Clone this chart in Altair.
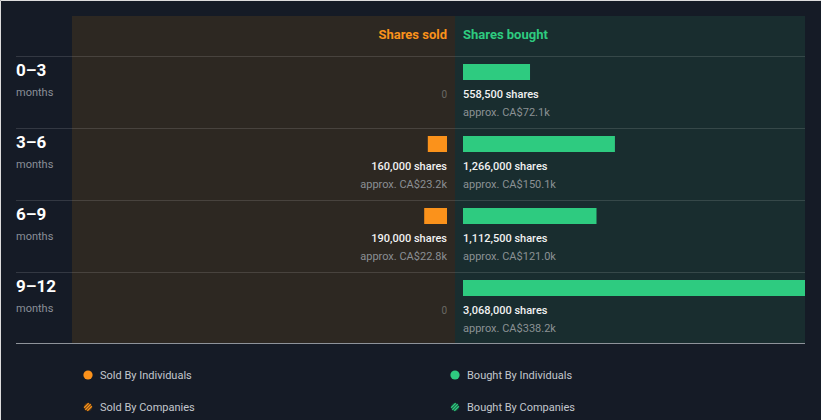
import altair as alt
import pandas as pd

# ---- data ----
periods = ["0–3", "3–6", "6–9", "9–12"]
sold_shares = [0, 160000, 190000, 0]
sold_value_k = [0, 23.2, 22.8, 0]
bought_shares = [558500, 1266000, 1112500, 3068000]
bought_value_k = [72.1, 150.1, 121.0, 338.2]
legend_labels = ["Sold By Individuals", "Sold By Companies",
                 "Bought By Individuals", "Bought By Companies"]
headers = ["Shares sold", "Shares bought"]

BG = "#151b26"
SOLD_BG = "#2d2822"
BOUGHT_BG = "#192d2f"
ORANGE = "#fb921b"
GREEN = "#2ecb80"
FONT = "Roboto"

df = pd.DataFrame({
    "period": periods,
    "sold": sold_shares,
    "sold_k": sold_value_k,
    "bought": bought_shares,
    "bought_k": bought_value_k,
})
df["sold_txt"] = [f"{v:,} shares" if v else "0" for v in df["sold"]]
df["sold_apx"] = [f"approx. CA${k:.1f}k" if v else "" for v, k in zip(df["sold"], df["sold_k"])]
df["bought_txt"] = [f"{v:,} shares" for v in df["bought"]]
df["bought_apx"] = [f"approx. CA${k:.1f}k" for k in df["bought_k"]]
df["unit"] = "months"

one = pd.DataFrame({"a": [0]})

yscale = alt.Scale(domain=periods, range=[56, 344], paddingInner=0, paddingOuter=0)
Y = alt.Y("period:N", scale=yscale, axis=None)

base = alt.Chart(df)

# panels
sold_bg = alt.Chart(one).mark_rect(color=SOLD_BG).encode(
    x=alt.value(72), x2=alt.value(455), y=alt.value(16), y2=alt.value(343))
bought_bg = alt.Chart(one).mark_rect(color=BOUGHT_BG).encode(
    x=alt.value(455), x2=alt.value(805), y=alt.value(16), y2=alt.value(343))

# separators
seps = base.mark_rule(color="#ffffff", opacity=0.13, strokeWidth=1, yOffset=-35.5).encode(
    y=Y, x=alt.value(16), x2=alt.value(805))
bottom = alt.Chart(one).mark_rule(color="#8e939a", strokeWidth=1).encode(
    y=alt.value(343.5), x=alt.value(16), x2=alt.value(805))

# headers
hdf = pd.DataFrame({"h": headers})
h_sold = alt.Chart(hdf).transform_filter(alt.datum.h == headers[0]).mark_text(
    align="right", baseline="middle", font=FONT, fontSize=13, fontWeight="bold", color=ORANGE
).encode(text="h:N", x=alt.value(447), y=alt.value(35))
h_bought = alt.Chart(hdf).transform_filter(alt.datum.h == headers[1]).mark_text(
    align="left", baseline="middle", font=FONT, fontSize=13, fontWeight="bold", color=GREEN
).encode(text="h:N", x=alt.value(463), y=alt.value(35))

# row labels
row_lab = base.mark_text(align="left", baseline="middle", font=FONT, fontSize=17,
                         fontWeight="bold", color="#ffffff", yOffset=-21).encode(
    y=Y, x=alt.value(16), text="period:N")
row_unit = base.mark_text(align="left", baseline="middle", font=FONT, fontSize=11,
                          color="#8a8f98", yOffset=1).encode(
    y=Y, x=alt.value(16), text="unit:N")

# bars
sold_bars = base.transform_filter(alt.datum.sold > 0).mark_bar(
    color=ORANGE, height=16, yOffset=-20).encode(
    y=Y,
    x=alt.X("sold:Q", scale=alt.Scale(domain=[0, 3125000], range=[447, 72]), axis=None))
bought_bars = base.mark_bar(color=GREEN, height=16, yOffset=-20).encode(
    y=Y,
    x=alt.X("bought:Q", scale=alt.Scale(domain=[0, 2850000], range=[463, 805], clamp=True),
            axis=None))

# texts
sold_txt = base.transform_filter(alt.datum.sold > 0).mark_text(
    align="right", baseline="middle", font=FONT, fontSize=11, fontWeight=500,
    color="#f2f2f2", yOffset=3).encode(y=Y, x=alt.value(447), text="sold_txt:N")
sold_apx = base.transform_filter(alt.datum.sold > 0).mark_text(
    align="right", baseline="middle", font=FONT, fontSize=11,
    color="#8b8f94", yOffset=21).encode(y=Y, x=alt.value(447), text="sold_apx:N")
sold_zero = base.transform_filter(alt.datum.sold == 0).mark_text(
    align="right", baseline="middle", font=FONT, fontSize=10,
    color="#6a6864", yOffset=3).encode(y=Y, x=alt.value(447), text="sold_txt:N")
bought_txt = base.mark_text(
    align="left", baseline="middle", font=FONT, fontSize=11, fontWeight=500,
    color="#f2f2f2", yOffset=3).encode(y=Y, x=alt.value(463), text="bought_txt:N")
bought_apx = base.mark_text(
    align="left", baseline="middle", font=FONT, fontSize=11,
    color="#8b9194", yOffset=21).encode(y=Y, x=alt.value(463), text="bought_apx:N")

# legend
ldf = pd.DataFrame({"label": legend_labels})
leg_layers = []
leg_pos = [(88, 375), (88, 407), (455, 375), (455, 407)]
leg_col = [ORANGE, ORANGE, GREEN, GREEN]
leg_dark = ["#4a3216", "#4a3216", "#153f33", "#153f33"]
stripes = ("M-0.16,0.88L0.88,-0.16"
           "M-0.62,0.62L0.62,-0.62"
           "M-0.88,0.16L0.16,-0.88")
for lab, (px, py), col, dk in zip(legend_labels, leg_pos, leg_col, leg_dark):
    src = alt.Chart(ldf).transform_filter(alt.datum.label == lab)
    if "Individuals" in lab:
        leg_layers.append(src.mark_point(shape="circle", filled=True, size=85, color=col, opacity=1)
                          .encode(x=alt.value(px), y=alt.value(py)))
    else:
        leg_layers.append(src.mark_point(shape="circle", filled=True, size=75, color=dk, opacity=1)
                          .encode(x=alt.value(px), y=alt.value(py)))
        leg_layers.append(src.mark_point(shape=stripes, filled=False, size=75, stroke=col,
                                         strokeWidth=1.4, opacity=1)
                          .encode(x=alt.value(px), y=alt.value(py)))
    leg_layers.append(src.mark_text(align="left", baseline="middle", font=FONT, fontSize=11,
                                    color="#c3c7cd")
                      .encode(x=alt.value(px + 12), y=alt.value(py + 1), text="label:N"))

chart = alt.layer(
    sold_bg, bought_bg, seps, bottom, h_sold, h_bought, row_lab, row_unit,
    sold_bars, bought_bars, sold_txt, sold_apx, sold_zero, bought_txt, bought_apx,
    *leg_layers
).resolve_scale(x="independent").properties(
    width=821, height=420, background=BG, padding=0,
    autosize=alt.AutoSizeParams(type="none")
).configure_view(stroke=None).configure(font=FONT)

chart.save("out.html", embed_options={"renderer": "svg", "actions": False})
